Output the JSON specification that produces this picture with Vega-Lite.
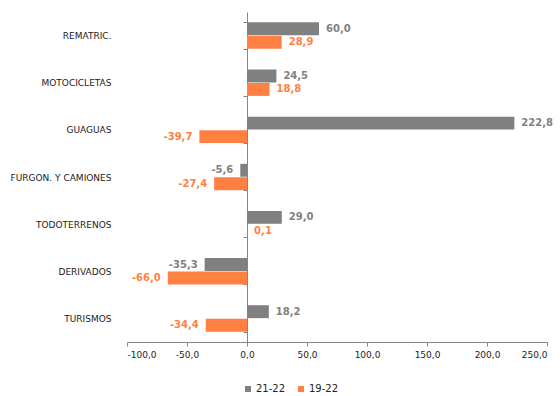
{
  "$schema": "https://vega.github.io/schema/vega-lite/v6.json",
  "width": 420,
  "height": 330,
  "autosize": {"type": "none"},
  "padding": {"left": 127, "top": 12, "right": 13, "bottom": 54},
  "background": "white",
  "config": {
    "locale": {"number": {"decimal": ",", "thousands": ".", "grouping": [3], "currency": ["", " €"], "minus": "-"}},
    "view": {"stroke": null},
    "font": "DejaVu Sans"
  },
  "data": {
    "values": [
      {"categoria": "REMATRIC.", "serie": "21-22", "valor": 60.0},
      {"categoria": "REMATRIC.", "serie": "19-22", "valor": 28.9},
      {"categoria": "MOTOCICLETAS", "serie": "21-22", "valor": 24.5},
      {"categoria": "MOTOCICLETAS", "serie": "19-22", "valor": 18.8},
      {"categoria": "GUAGUAS", "serie": "21-22", "valor": 222.8},
      {"categoria": "GUAGUAS", "serie": "19-22", "valor": -39.7},
      {"categoria": "FURGON. Y CAMIONES", "serie": "21-22", "valor": -5.6},
      {"categoria": "FURGON. Y CAMIONES", "serie": "19-22", "valor": -27.4},
      {"categoria": "TODOTERRENOS", "serie": "21-22", "valor": 29.0},
      {"categoria": "TODOTERRENOS", "serie": "19-22", "valor": 0.1},
      {"categoria": "DERIVADOS", "serie": "21-22", "valor": -35.3},
      {"categoria": "DERIVADOS", "serie": "19-22", "valor": -66.0},
      {"categoria": "TURISMOS", "serie": "21-22", "valor": 18.2},
      {"categoria": "TURISMOS", "serie": "19-22", "valor": -34.4}
    ]
  },
  "encoding": {
    "y": {
      "field": "categoria",
      "type": "nominal",
      "sort": ["REMATRIC.", "MOTOCICLETAS", "GUAGUAS", "FURGON. Y CAMIONES", "TODOTERRENOS", "DERIVADOS", "TURISMOS"],
      "scale": {"paddingInner": 0.44, "paddingOuter": 0.22},
      "axis": {
        "title": null,
        "offset": -120,
        "domainColor": "#868686",
        "tickColor": "#868686",
        "tickSize": 4,
        "tickBand": "extent",
        "labelPadding": 132,
        "labelFontSize": 9,
        "labelColor": "#222222",
        "labelFont": "DejaVu Sans"
      }
    },
    "yOffset": {"field": "serie", "type": "nominal", "sort": ["21-22", "19-22"], "scale": {"paddingInner": 0.04}},
    "x": {
      "field": "valor",
      "type": "quantitative",
      "scale": {"domain": [-100, 250], "nice": false, "zero": false},
      "axis": {
        "title": null,
        "values": [-100, -50, 0, 50, 100, 150, 200, 250],
        "format": ".1f",
        "grid": false,
        "domainColor": "#868686",
        "tickColor": "#868686",
        "tickSize": 4,
        "labelPadding": 4,
        "labelFontSize": 9,
        "labelColor": "#222222",
        "labelFont": "DejaVu Sans",
        "labelOverlap": false
      }
    },
    "color": {
      "field": "serie",
      "type": "nominal",
      "sort": ["21-22", "19-22"],
      "scale": {"domain": ["21-22", "19-22"], "range": ["#808080", "#FF8040"]},
      "legend": {
        "title": null,
        "orient": "none",
        "direction": "horizontal",
        "legendX": 116,
        "legendY": 372,
        "symbolType": "square",
        "symbolSize": 36,
        "symbolStrokeWidth": 0,
        "labelFontSize": 10,
        "labelOffset": 3,
        "columnPadding": 10,
        "labelColor": "#222222",
        "labelFont": "DejaVu Sans"
      }
    }
  },
  "layer": [
    {"mark": {"type": "bar"}},
    {
      "transform": [{"filter": "datum.valor >= 0"}],
      "mark": {"type": "text", "align": "left", "baseline": "middle", "dx": 7, "fontWeight": "bold", "fontSize": 10, "font": "DejaVu Sans"},
      "encoding": {"text": {"field": "valor", "type": "quantitative", "format": ".1f"}}
    },
    {
      "transform": [{"filter": "datum.valor < 0"}],
      "mark": {"type": "text", "align": "right", "baseline": "middle", "dx": -7, "fontWeight": "bold", "fontSize": 10, "font": "DejaVu Sans"},
      "encoding": {"text": {"field": "valor", "type": "quantitative", "format": ".1f"}}
    }
  ]
}
